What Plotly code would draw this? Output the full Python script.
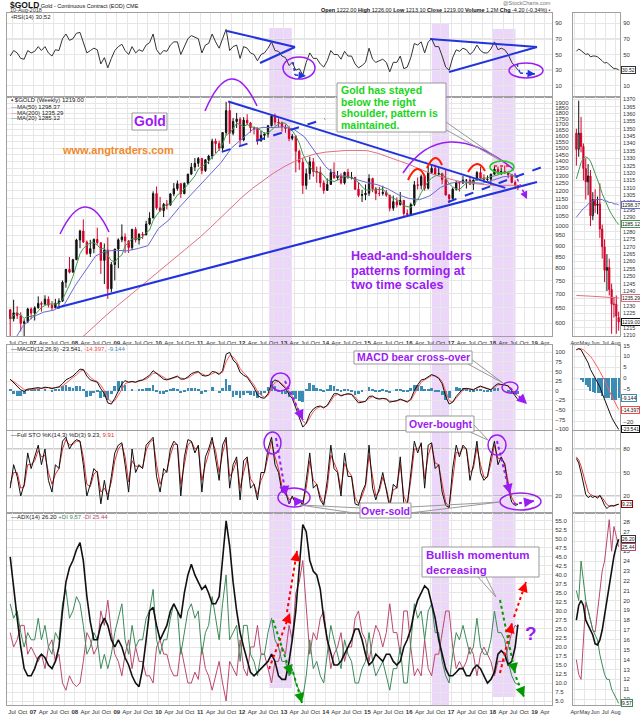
import pandas as pd
import plotly.graph_objects as go
from plotly.subplots import make_subplots

W, H = 640, 716
ML, MR, MT, MB = 7, 20, 13, 11
PW, PH = W - ML - MR, H - MT - MB

FONT = "Liberation Sans, Arial, sans-serif"
PURPLE = "#9b1cf2"
BLUE = "#2233dd"
RED = "#d4002a"
GRID = "#e6e6e6"
FRAME = "#a0a0a0"

# ---------------- weekly $GOLD ----------------
months = list(pd.date_range("2006-06-01", "2018-08-01", freq="MS") + pd.Timedelta(days=14))
months[-1] = pd.Timestamp("2018-08-08")

opens = [643, 614, 633, 624, 599, 604, 646,
         632, 650, 665, 662, 680, 659, 650, 666, 673, 743, 795, 783,
         836, 927, 972, 917, 864, 886, 930, 914, 833, 880, 718, 815,
         884, 928, 942, 923, 891, 980, 927, 955, 952, 1008, 1040, 1182,
         1097, 1081, 1118, 1113, 1180, 1213, 1245, 1181, 1248, 1309, 1358, 1385,
         1421, 1333, 1411, 1439, 1556, 1536, 1500, 1628, 1826, 1622, 1725, 1746,
         1566, 1737, 1711, 1669, 1664, 1560, 1604, 1615, 1687, 1773, 1719, 1713,
         1675, 1663, 1578, 1597, 1476, 1393, 1234, 1312, 1396, 1327, 1323, 1250,
         1202, 1240, 1321, 1284, 1296, 1250, 1322, 1282, 1287, 1210, 1171, 1175,
         1184, 1279, 1213, 1183, 1183, 1190, 1172, 1095, 1133, 1115, 1141, 1065,
         1060, 1116, 1238, 1234, 1293, 1215, 1320, 1349, 1309, 1313, 1272, 1173,
         1152, 1210, 1253, 1249, 1268, 1269, 1242, 1269, 1320, 1283, 1271, 1275,
         1309, 1343, 1318, 1327, 1316, 1305, 1253, 1233]
highs = [646, 678, 655, 635, 612, 650, 651,
         655, 690, 672, 694, 690, 673, 681, 683, 750, 796, 848, 840,
         933, 978, 1033, 925, 928, 934, 989, 915, 910, 940, 826, 885,
         935, 1006, 960, 925, 983, 992, 961, 967, 1025, 1072, 1196, 1227,
         1162, 1126, 1143, 1186, 1249, 1266, 1248, 1252, 1311, 1388, 1424, 1432,
         1425, 1416, 1448, 1576, 1577, 1560, 1632, 1912, 1921, 1756, 1804, 1764,
         1764, 1792, 1721, 1681, 1671, 1641, 1628, 1693, 1790, 1798, 1754, 1724,
         1698, 1680, 1616, 1602, 1488, 1424, 1348, 1434, 1425, 1362, 1362, 1267,
         1280, 1345, 1392, 1331, 1315, 1325, 1346, 1324, 1290, 1256, 1206, 1240,
         1308, 1285, 1224, 1225, 1232, 1205, 1175, 1170, 1159, 1192, 1143, 1088,
         1127, 1263, 1286, 1306, 1304, 1362, 1377, 1375, 1352, 1318, 1338, 1180,
         1220, 1264, 1261, 1297, 1275, 1297, 1274, 1330, 1362, 1308, 1300, 1311,
         1366, 1362, 1356, 1369, 1326, 1309, 1266, 1236]
lows = [543, 605, 613, 574, 560, 600, 612,
        608, 647, 637, 662, 651, 641, 648, 646, 671, 722, 778, 783,
        836, 888, 913, 857, 848, 865, 905, 776, 736, 681, 705, 750,
        800, 916, 866, 866, 879, 915, 905, 932, 951, 1002, 1040, 1086,
        1075, 1045, 1088, 1110, 1166, 1200, 1155, 1180, 1240, 1305, 1330, 1360,
        1308, 1324, 1380, 1415, 1462, 1478, 1478, 1603, 1535, 1604, 1667, 1523,
        1556, 1692, 1627, 1612, 1527, 1550, 1565, 1585, 1680, 1690, 1672, 1636,
        1626, 1555, 1563, 1321, 1338, 1180, 1208, 1272, 1292, 1251, 1221, 1181,
        1200, 1240, 1277, 1268, 1240, 1240, 1282, 1273, 1204, 1160, 1131, 1142,
        1167, 1191, 1142, 1166, 1170, 1162, 1077, 1080, 1099, 1111, 1052, 1046,
        1058, 1107, 1208, 1208, 1200, 1208, 1310, 1305, 1304, 1241, 1171, 1124,
        1146, 1200, 1195, 1244, 1214, 1236, 1205, 1268, 1279, 1261, 1264, 1237,
        1306, 1307, 1303, 1315, 1282, 1248, 1211, 1204]
closes = [614, 633, 624, 599, 604, 646, 632,
          650, 665, 662, 680, 659, 650, 666, 673, 743, 795, 783, 836,
          927, 972, 917, 864, 886, 930, 914, 833, 880, 718, 815, 884,
          928, 942, 923, 891, 980, 927, 955, 952, 1008, 1040, 1182, 1097,
          1081, 1118, 1113, 1180, 1213, 1245, 1181, 1248, 1309, 1358, 1385, 1421,
          1333, 1411, 1439, 1556, 1536, 1500, 1628, 1826, 1622, 1725, 1746, 1566,
          1737, 1711, 1669, 1664, 1560, 1604, 1615, 1687, 1773, 1719, 1713, 1675,
          1663, 1578, 1597, 1476, 1393, 1234, 1312, 1396, 1327, 1323, 1250, 1202,
          1240, 1321, 1284, 1296, 1250, 1322, 1282, 1287, 1210, 1171, 1175, 1184,
          1279, 1213, 1183, 1183, 1190, 1172, 1095, 1133, 1115, 1141, 1065, 1060,
          1116, 1238, 1234, 1293, 1215, 1320, 1349, 1309, 1313, 1272, 1173, 1152,
          1210, 1253, 1249, 1268, 1269, 1242, 1269, 1320, 1283, 1271, 1275, 1309,
          1343, 1318, 1327, 1316, 1305, 1253, 1233, 1219]
ma20 = [610, 625, 634, 623, 615, 621, 621,
        626, 639, 651, 658, 663, 663, 663, 666, 678, 705, 732, 766,
        817, 863, 887, 903, 913, 914, 902, 885, 889, 855, 832, 826,
        845, 857, 898, 914, 933, 933, 935, 941, 964, 976, 1027, 1056,
        1082, 1104, 1118, 1118, 1141, 1174, 1186, 1213, 1239, 1268, 1296, 1344,
        1361, 1382, 1398, 1432, 1455, 1488, 1532, 1609, 1622, 1660, 1709, 1697,
        1679, 1697, 1686, 1669, 1668, 1642, 1622, 1626, 1648, 1680, 1701, 1713,
        1709, 1670, 1645, 1598, 1541, 1456, 1402, 1362, 1332, 1318, 1322, 1300,
        1268, 1267, 1259, 1269, 1278, 1295, 1287, 1287, 1270, 1254, 1225, 1205,
        1204, 1204, 1207, 1208, 1210, 1188, 1165, 1155, 1141, 1131, 1110, 1103,
        1099, 1124, 1143, 1188, 1219, 1260, 1282, 1297, 1301, 1313, 1283, 1244,
        1224, 1212, 1207, 1226, 1250, 1256, 1259, 1274, 1277, 1277, 1284, 1292,
        1296, 1303, 1314, 1323, 1322, 1304, 1287, 1285.12]

ma50_dates = list(pd.date_range("2006-07-01", "2018-07-01", freq="QS")) + [pd.Timestamp("2018-08-08")]
ma50 = [537, 589, 620, 635, 642, 661, 728, 790, 853, 875, 878, 876, 886, 900,
        985, 1029, 1099, 1167, 1238, 1310, 1390, 1501, 1574, 1652, 1672, 1671,
        1677, 1654, 1590, 1474, 1361, 1298, 1294, 1272, 1252, 1238, 1211, 1174,
        1152, 1145, 1169, 1221, 1249, 1259, 1255, 1247, 1268, 1291, 1299, 1298.37]
ma200_dates = list(pd.date_range("2007-10-01", "2018-07-01", freq="QS")) + [pd.Timestamp("2018-08-08")]
ma200 = [520, 539, 565, 595, 625, 655, 685, 718, 750, 786, 820, 858, 900,
         942, 990, 1045, 1100, 1160, 1215, 1265, 1315, 1360, 1398, 1430, 1455,
         1469, 1478, 1482, 1482, 1480, 1460, 1432, 1405, 1377, 1345, 1315, 1292,
         1272, 1257, 1247, 1240, 1234, 1234, 1235, 1235.29]

rsi = [48, 55, 52, 45, 44, 55, 52,
       54, 60, 55, 60, 52, 48, 56, 55, 70, 76, 68, 70,
       77, 78, 66, 52, 55, 58, 56, 38, 46, 33, 45, 55,
       60, 63, 55, 50, 60, 52, 56, 54, 62, 65, 76, 56,
       50, 55, 54, 62, 66, 66, 50, 60, 70, 74, 72, 70,
       52, 62, 64, 76, 66, 58, 70, 82, 55, 60, 62, 45,
       60, 58, 52, 50, 42, 50, 52, 58, 66, 55, 54, 48,
       46, 36, 40, 30, 32, 24, 40, 52, 45, 45, 38, 34,
       42, 55, 50, 50, 44, 54, 48, 48, 38, 33, 36, 40,
       58, 44, 40, 42, 44, 40, 28, 40, 40, 48, 32, 34,
       46, 64, 62, 66, 52, 66, 70, 60, 60, 48, 34, 30,
       46, 56, 54, 58, 56, 50, 54, 62, 55, 52, 52, 57,
       66, 56, 58, 56, 50, 40, 35, 30.52]
macd = [30, 20, 10, 2, -2, 4, 5,
        6, 8, 6, 9, 8, 5, 8, 10, 18, 28, 33, 38,
        47, 56, 55, 38, 28, 25, 22, 5, -8, -32, -35, -20,
        0, 18, 26, 22, 24, 22, 26, 28, 34, 40, 52, 45,
        36, 30, 28, 32, 36, 38, 30, 30, 36, 44, 48, 50,
        40, 38, 40, 50, 48, 42, 52, 95, 100, 80, 70, 48,
        40, 35, 22, 8, -12, -18, -20, -8, 20, 28, 24, 14,
        6, -10, -20, -45, -70, -95, -85, -60, -48, -42, -40, -45,
        -38, -20, -8, -8, -14, -10, -8, -10, -22, -32, -30, -28,
        -15, -14, -20, -22, -20, -22, -30, -28, -26, -22, -26, -30,
        -22, 0, 15, 28, 30, 35, 42, 38, 32, 18, -15, -35,
        -30, -15, -5, 5, 6, 4, 2, 8, 12, 8, 4, 2,
        12, 18, 16, 15, 12, -2, -14, -23.541]
signal = [28, 24, 17, 9, 3, 2, 3,
          4, 6, 6, 7, 8, 7, 7, 8, 12, 20, 28, 34,
          41, 50, 54, 46, 35, 28, 24, 14, 0, -20, -30, -26,
          -12, 5, 18, 22, 23, 22, 24, 26, 30, 36, 45, 46,
          40, 34, 30, 30, 33, 36, 33, 31, 33, 40, 45, 48,
          44, 40, 40, 45, 48, 45, 48, 75, 92, 88, 76, 58,
          46, 38, 28, 15, -2, -12, -17, -13, 6, 22, 25, 18,
          10, -2, -14, -34, -56, -80, -86, -70, -55, -46, -42, -43,
          -40, -28, -14, -10, -12, -11, -9, -9, -16, -27, -29, -28,
          -20, -16, -18, -21, -21, -21, -27, -28, -27, -24, -25, -28,
          -25, -8, 8, 22, 28, 33, 39, 39, 34, 24, -2, -26,
          -30, -20, -9, 1, 5, 5, 3, 6, 10, 9, 6, 3,
          8, 15, 16, 15, 13, 4, -8, -14.397]
hist = [4, -8, -14, -14, -10, 4, 4,
        4, 4, 0, 4, 0, -4, 2, 4, 12, 16, 10, 8,
        12, 12, 2, -16, -14, -6, -4, -18, -16, -24, -10, 12,
        24, 26, 16, 0, 2, 0, 4, 4, 8, 8, 14, -2,
        -8, -8, -4, 4, 6, 4, -6, -2, 6, 8, 6, 4,
        -8, -4, 0, 10, 0, -6, 8, 30, 16, -16, -12, -20,
        -12, -6, -12, -14, -20, -12, -6, 10, 26, 12, -2, -8,
        -8, -16, -12, -22, -28, -30, 2, 20, 14, 8, 4, -4,
        4, 16, 12, 4, -4, 2, 2, -2, -12, -10, -2, 0,
        10, 4, -4, -2, 2, -2, -6, 0, 2, 4, -2, -4,
        6, 16, 14, 12, 4, 4, 6, -2, -4, -12, -24, -18,
        0, 10, 8, 8, 2, -2, -2, 4, 4, -2, -4, -2,
        8, 6, 0, 0, -2, -9, -10, -9.144]
sto_k = [30, 60, 45, 20, 35, 75, 55,
         70, 85, 60, 80, 40, 25, 60, 55, 90, 95, 80, 88,
         92, 90, 60, 20, 35, 55, 50, 10, 40, 15, 45, 75,
         85, 88, 60, 25, 80, 50, 60, 55, 85, 90, 95, 45,
         25, 55, 50, 80, 90, 85, 20, 70, 92, 90, 75, 85,
         25, 70, 80, 95, 70, 40, 85, 95, 30, 60, 70, 15,
         65, 70, 30, 35, 15, 50, 50, 80, 95, 60, 50, 25,
         25, 10, 20, 10, 15, 8, 40, 75, 30, 35, 15, 8,
         40, 85, 55, 50, 20, 75, 45, 45, 10, 8, 25, 35,
         85, 30, 15, 30, 50, 25, 5, 35, 30, 70, 10, 8,
         50, 90, 75, 88, 30, 85, 88, 55, 60, 25, 8, 5,
         55, 85, 70, 85, 80, 40, 60, 90, 50, 40, 45, 70,
         90, 60, 70, 60, 30, 12, 8, 9.23]
sto_d = [35, 50, 50, 30, 32, 60, 60,
         65, 78, 70, 72, 50, 35, 48, 55, 80, 92, 85, 86,
         90, 90, 70, 35, 32, 48, 52, 25, 30, 22, 38, 65,
         80, 86, 70, 38, 65, 58, 58, 56, 78, 88, 92, 60,
         35, 48, 52, 72, 86, 86, 35, 60, 85, 90, 80, 82,
         40, 60, 76, 90, 78, 50, 75, 92, 45, 52, 66, 30,
         50, 68, 42, 35, 22, 40, 50, 70, 90, 70, 55, 32,
         26, 15, 18, 12, 14, 10, 30, 65, 40, 35, 20, 10,
         30, 72, 62, 52, 28, 62, 52, 46, 18, 10, 20, 32,
         72, 42, 20, 26, 44, 30, 10, 28, 30, 60, 20, 9,
         40, 80, 80, 85, 42, 72, 86, 62, 60, 35, 12, 6,
         42, 76, 74, 82, 80, 50, 55, 82, 60, 44, 44, 62,
         85, 68, 68, 62, 38, 18, 10, 9.91]
adx = [45, 36, 28, 20, 14, 12, 12,
       14, 17, 18, 17, 15, 14, 16, 20, 30, 38, 42, 44,
       47, 49, 44, 34, 27, 22, 22, 26, 28, 26, 22, 20,
       22, 20, 17, 15, 12, 10, 9, 14, 22, 30, 31, 26,
       22, 24, 26, 30, 32, 30, 28, 35, 40, 43, 40, 38,
       36, 37, 35, 32, 32, 34, 44, 55, 48, 38, 30, 24,
       20, 16, 13, 12, 13, 14, 15, 16, 18, 16, 12, 11,
       11, 16, 22, 30, 42, 54, 52, 44, 41, 40, 36, 28,
       22, 18, 15, 15, 16, 18, 20, 22, 25, 25, 22, 18,
       15, 16, 18, 17, 16, 18, 18, 16, 15, 16, 20, 22,
       25, 30, 33, 35, 37, 36, 32, 28, 22, 18, 14, 12,
       12, 13, 14, 14, 12, 12, 14, 15, 14, 12, 10, 11,
       13, 18, 19, 18, 15, 16, 20, 26.20]
plus_di = [32, 28, 30, 24, 20, 24, 22,
           22, 28, 22, 26, 20, 18, 24, 22, 32, 36, 28, 30,
           34, 32, 26, 18, 20, 24, 22, 14, 18, 14, 18, 24,
           28, 32, 22, 18, 26, 20, 22, 22, 28, 30, 36, 22,
           18, 22, 22, 28, 32, 30, 18, 24, 30, 32, 28, 30,
           18, 24, 26, 34, 28, 22, 32, 40, 22, 24, 26, 16,
           26, 26, 18, 16, 12, 18, 18, 24, 28, 22, 20, 16,
           16, 12, 14, 10, 8, 6, 12, 22, 14, 16, 12, 10,
           18, 26, 22, 18, 14, 22, 18, 16, 10, 10, 14, 16,
           24, 16, 12, 14, 16, 12, 8, 14, 14, 20, 10, 10,
           20, 32, 28, 30, 22, 30, 32, 24, 24, 16, 12, 10,
           18, 24, 22, 26, 22, 18, 20, 28, 20, 18, 18, 22,
           30, 24, 24, 22, 16, 12, 10, 9.57]
minus_di = [24, 20, 22, 26, 26, 18, 20,
            18, 16, 18, 14, 20, 22, 16, 18, 10, 8, 12, 10,
            9, 10, 16, 24, 22, 18, 20, 30, 26, 33, 24, 18,
            16, 12, 18, 22, 14, 20, 16, 16, 12, 12, 10, 20,
            22, 18, 18, 14, 12, 12, 20, 15, 10, 10, 13, 11,
            20, 14, 12, 8, 12, 16, 10, 5, 16, 14, 12, 22,
            14, 12, 20, 20, 26, 18, 18, 14, 10, 16, 16, 20,
            18, 26, 22, 35, 38, 44, 30, 18, 24, 22, 28, 30,
            22, 14, 18, 20, 24, 16, 20, 20, 28, 30, 24, 22,
            16, 22, 26, 24, 20, 24, 32, 24, 24, 18, 30, 30,
            20, 12, 14, 12, 22, 14, 12, 18, 18, 24, 30, 30,
            20, 14, 16, 14, 16, 20, 18, 12, 18, 20, 18, 16,
            12, 16, 16, 16, 20, 24, 26, 25.44]

for name, arr in [("opens", opens), ("highs", highs), ("lows", lows), ("closes", closes),
                  ("ma20", ma20), ("rsi", rsi), ("macd", macd), ("signal", signal),
                  ("hist", hist), ("sto_k", sto_k), ("sto_d", sto_d), ("adx", adx),
                  ("plus_di", plus_di), ("minus_di", minus_di)]:
    assert len(arr) == len(months), (name, len(arr))
assert len(ma50) == len(ma50_dates) and len(ma200) == len(ma200_dates)

# ---------------- zoom panel on the right: last 19 weeks ----------------
weeks = pd.date_range("2018-04-06", "2018-08-10", freq="7D")
w_open = [1347, 1336, 1347, 1338, 1323, 1314, 1318, 1291, 1302, 1298, 1299, 1282, 1270, 1254, 1256, 1241, 1231, 1231, 1222]
w_high = [1350, 1369, 1358, 1340, 1330, 1326, 1322, 1307, 1309, 1304, 1313, 1285, 1275, 1265, 1262, 1245, 1236, 1237, 1226]
w_low = [1325, 1331, 1334, 1315, 1302, 1305, 1284, 1288, 1293, 1292, 1276, 1262, 1246, 1240, 1237, 1211, 1222, 1211, 1213.1]
w_close = [1336, 1347, 1338, 1323, 1314, 1318, 1291, 1302, 1298, 1299, 1282, 1270, 1254, 1256, 1241, 1231, 1231, 1223, 1219]
w_ma20 = [1316, 1322, 1327, 1330, 1331, 1330, 1328, 1324, 1320, 1315, 1311, 1306, 1302, 1298, 1295, 1292, 1289, 1287, 1285.12]
w_ma50 = [1290, 1292, 1294, 1296, 1297, 1299, 1300, 1301, 1302, 1302, 1302, 1302, 1301, 1301, 1300, 1300, 1299, 1299, 1298.37]
w_ma200 = [1237, 1237, 1237, 1237, 1236.8, 1236.6, 1236.5, 1236.4, 1236.3, 1236.2, 1236.1, 1236, 1235.9, 1235.8, 1235.7, 1235.6, 1235.5, 1235.4, 1235.29]
w_rsi = [54, 57, 55, 52, 50, 51, 47, 48, 48, 47, 45, 42, 39, 40, 37, 34, 32, 32, 30.52]
w_macd = [13, 13.5, 13, 11, 9, 7, 4, 2, 0, -2, -4, -7, -10, -12, -15, -18, -20, -22, -23.541]
w_signal = [13, 13.5, 13.5, 13, 12, 11, 10, 8.5, 7, 5, 3, 1, -1, -3, -6, -8, -10, -12, -14.397]
w_hist = [0, 0, -0.5, -2, -3, -4, -6, -6.5, -7, -7, -7, -8, -9, -9, -9, -10, -10, -10, -9.144]
w_k = [68, 62, 50, 35, 22, 18, 20, 18, 20, 17, 21, 15, 8, 4, 7, 8, 7, 9, 9.23]
w_d = [70, 66, 58, 48, 35, 25, 22, 20, 19, 19, 20, 18, 14, 9, 7, 7, 8, 8, 9.91]
w_adx = [18, 19.5, 20, 19.5, 18, 17.5, 17, 16.5, 15.6, 15.5, 16, 17, 18.5, 20, 21.5, 23, 24.5, 25.5, 26.2]
w_pdi = [21, 20, 24, 22, 20, 19, 18, 17, 16.5, 16, 14.5, 13.5, 12.5, 12, 12, 11, 10.5, 10, 9.57]
w_mdi = [14, 12.5, 12, 16, 19.8, 19, 18, 17, 16.8, 19, 21, 23, 24, 26, 28.2, 25, 27.5, 26.5, 25.44]

# analyst trend lines on the weekly price panel: (start, price, end, price, dash)
trendlines = [("2011-09-02", 1915, "2018-04-20", 1218, "solid"),
              ("2007-07-28", 650, "2019-01-22", 1256, "solid"),
              ("2011-07-08", 1471, "2013-12-27", 1748, "dash"),
              ("2016-12-05", 1131, "2019-03-15", 1361, "dash")]
# shaded periods
bands = [("2012-08-26", "2013-03-11", 28, 688),
         ("2016-07-17", "2016-12-14", 23, 705),
         ("2017-12-31", "2018-07-18", 29, 697)]

qticks = pd.date_range("2006-07-01", "2019-04-01", freq="QS")
qlabels = ["<b>%s</b>" % d.strftime("%y") if d.month == 1 else d.strftime("%b") for d in qticks]
mticks = pd.date_range("2018-04-01", "2018-08-01", freq="MS")
mlabels = [d.strftime("%b") for d in mticks]


def pxx(x):
    return (x - ML) / PW


def pxy(y):
    return (H - MB - y) / PH


fig = make_subplots(rows=5, cols=2)

fig.add_trace(go.Scatter(x=months, y=rsi, mode="lines", line=dict(color="#333", width=1)), 1, 1)
fig.add_trace(go.Scatter(x=weeks, y=w_rsi, mode="lines", line=dict(color="#333", width=1)), 1, 2)

fig.add_trace(go.Scatter(x=ma200_dates, y=ma200, mode="lines", line=dict(color="#e07080", width=1)), 2, 1)
fig.add_trace(go.Scatter(x=ma50_dates, y=ma50, mode="lines", line=dict(color="#6a6ad0", width=1)), 2, 1)
fig.add_trace(go.Scatter(x=months, y=ma20, mode="lines", line=dict(color="#3f9a4f", width=1)), 2, 1)
fig.add_trace(go.Candlestick(x=months, open=opens, high=highs, low=lows, close=closes,
                             increasing=dict(line=dict(color="#111", width=1), fillcolor="#111"),
                             decreasing=dict(line=dict(color=RED, width=1), fillcolor=RED),
                             whiskerwidth=0), 2, 1)
for d0, p0, d1, p1, dash in trendlines:
    fig.add_trace(go.Scatter(x=[d0, d1], y=[p0, p1], mode="lines",
                             line=dict(color=BLUE, width=2, dash=dash)), 2, 1)

fig.add_trace(go.Scatter(x=weeks, y=w_ma200, mode="lines", line=dict(color="#e07080", width=1)), 2, 2)
fig.add_trace(go.Scatter(x=weeks, y=w_ma50, mode="lines", line=dict(color="#6a6ad0", width=1)), 2, 2)
fig.add_trace(go.Scatter(x=weeks, y=w_ma20, mode="lines", line=dict(color="#3f9a4f", width=1)), 2, 2)
fig.add_trace(go.Candlestick(x=weeks, open=w_open, high=w_high, low=w_low, close=w_close,
                             increasing=dict(line=dict(color="#111", width=1), fillcolor="white"),
                             decreasing=dict(line=dict(color=RED, width=1), fillcolor=RED),
                             whiskerwidth=0), 2, 2)

fig.add_trace(go.Bar(x=months, y=hist, marker=dict(color="#3a8cb4", line=dict(width=0)),
                     width=24 * 86400000), 3, 1)
fig.add_trace(go.Scatter(x=months, y=signal, mode="lines", line=dict(color="#ff5a5a", width=1)), 3, 1)
fig.add_trace(go.Scatter(x=months, y=macd, mode="lines", line=dict(color="#111", width=1)), 3, 1)
fig.add_trace(go.Bar(x=weeks, y=w_hist, marker=dict(color="#3a8cb4", line=dict(width=0)),
                     width=6 * 86400000), 3, 2)
fig.add_trace(go.Scatter(x=weeks, y=w_signal, mode="lines", line=dict(color="#ff5a5a", width=1)), 3, 2)
fig.add_trace(go.Scatter(x=weeks, y=w_macd, mode="lines", line=dict(color="#111", width=1)), 3, 2)

fig.add_trace(go.Scatter(x=months, y=sto_d, mode="lines", line=dict(color="#e03030", width=1)), 4, 1)
fig.add_trace(go.Scatter(x=months, y=sto_k, mode="lines", line=dict(color="#111", width=1)), 4, 1)
fig.add_trace(go.Scatter(x=weeks, y=w_d, mode="lines", line=dict(color="#e03030", width=1)), 4, 2)
fig.add_trace(go.Scatter(x=weeks, y=w_k, mode="lines", line=dict(color="#111", width=1)), 4, 2)

fig.add_trace(go.Scatter(x=months, y=minus_di, mode="lines", line=dict(color="#b94870", width=1)), 5, 1)
fig.add_trace(go.Scatter(x=months, y=plus_di, mode="lines", line=dict(color="#3d8a5a", width=1)), 5, 1)
fig.add_trace(go.Scatter(x=months, y=adx, mode="lines", line=dict(color="#111", width=1.6)), 5, 1)
fig.add_trace(go.Scatter(x=weeks, y=w_mdi, mode="lines", line=dict(color="#b94870", width=1)), 5, 2)
fig.add_trace(go.Scatter(x=weeks, y=w_pdi, mode="lines", line=dict(color="#3d8a5a", width=1)), 5, 2)
fig.add_trace(go.Scatter(x=weeks, y=w_adx, mode="lines", line=dict(color="#111", width=1.6)), 5, 2)

# ---------------- axes ----------------
rows_px = [(13, 97), (97, 336), (345, 430), (431, 513), (513, 705)]
yranges = [([-4, 102.7], [10, 30, 50, 70, 90]),
           ([2.7487, 3.2924], list(range(600, 1901, 50))),
           ([-102.6, 119], list(range(-100, 101, 25))),
           ([-1.7, 103], [20, 50, 80]),
           ([3.9, 57.2], [5 + 2.5 * i for i in range(21)])]
yranges_side = [([-4, 102.7], [10, 30, 50, 70, 90]),
                ([1209.5, 1371.5], list(range(1210, 1371, 5))),
                ([-23.8, 15.2], list(range(-20, 16, 5))),
                ([-1.7, 103], [20, 50, 80]),
                ([9.4, 28.87], list(range(10, 29)))]
axis_common = dict(showgrid=True, gridcolor=GRID, gridwidth=1, showline=True, linecolor=FRAME,
                   linewidth=1, mirror=True, zeroline=False, ticks="", automargin=False,
                   tickfont=dict(family=FONT, size=6, color="#333"))
for r in range(5):
    top, bot = rows_px[r]
    for c in range(2):
        i = r * 2 + c + 1
        xa = "xaxis" if i == 1 else "xaxis%d" % i
        ya = "yaxis" if i == 1 else "yaxis%d" % i
        if c == 0:
            xcfg = dict(domain=[pxx(7), pxx(552)], type="date",
                        range=["2006-05-18", "2019-06-02"],
                        tickmode="array", tickvals=list(qticks), ticktext=qlabels)
            rng, tv = yranges[r]
        else:
            xcfg = dict(domain=[pxx(573), pxx(620)], type="date",
                        range=["2018-03-27", "2018-08-14"],
                        tickmode="array", tickvals=list(mticks), ticktext=mlabels)
            rng, tv = yranges_side[r]
        xcfg.update(axis_common)
        if c == 1:
            xcfg["tickfont"] = dict(family=FONT, size=5.5, color="#333")
        xcfg["tickangle"] = 0
        xcfg["ticklabelstandoff"] = 1
        xcfg["showticklabels"] = r in (1, 4)
        xcfg["rangeslider"] = dict(visible=False)
        ycfg = dict(domain=[pxy(bot), pxy(top)], range=rng, tickmode="array", tickvals=tv,
                    side="right")
        ycfg.update(axis_common)
        ycfg["ticklabelstandoff"] = 1
        if r == 1 and c == 0:
            ycfg["type"] = "log"
        if r == 1 and c == 1:
            ycfg["tickfont"] = dict(family=FONT, size=5.5, color="#333")
        if r == 4 and c == 0:
            ycfg["tickformat"] = ".1f"
        fig.layout[xa].update(xcfg)
        fig.layout[ya].update(ycfg)

# ---------------- drawings ----------------
shapes = []
annos = []


def seg(x0, y0, x1, y1, color, width=1, dash="solid"):
    shapes.append(dict(type="line", xref="paper", yref="paper", x0=pxx(x0), y0=pxy(y0),
                       x1=pxx(x1), y1=pxy(y1), line=dict(color=color, width=width, dash=dash)))


def ellipse(x0, y0, x1, y1, color, width=1.5):
    shapes.append(dict(type="circle", xref="paper", yref="paper", x0=pxx(x0), y0=pxy(y1),
                       x1=pxx(x1), y1=pxy(y0), line=dict(color=color, width=width)))


def box(x0, y0, x1, y1):
    shapes.append(dict(type="rect", xref="paper", yref="paper", x0=pxx(x0), y0=pxy(y1),
                       x1=pxx(x1), y1=pxy(y0), fillcolor="white", line=dict(color="#999", width=1)))


def arc(p0, apex, p2, color, width):
    cx = 2 * apex[0] - (p0[0] + p2[0]) / 2
    cy = 2 * apex[1] - (p0[1] + p2[1]) / 2
    path = "M %.5f %.5f Q %.5f %.5f %.5f %.5f" % (pxx(p0[0]), pxy(p0[1]), pxx(cx), pxy(cy),
                                                  pxx(p2[0]), pxy(p2[1]))
    shapes.append(dict(type="path", xref="paper", yref="paper", path=path,
                       line=dict(color=color, width=width)))


def arrow(pts, color, width=2):
    for (a, b), (c, d) in zip(pts[:-1], pts[1:]):
        seg(a, b, c, d, color, width, "dot")
    (xa, ya), (xb, yb) = pts[-2], pts[-1]
    length = ((xa - xb) ** 2 + (ya - yb) ** 2) ** 0.5
    annos.append(dict(xref="paper", yref="paper", x=pxx(xb), y=pxy(yb), text="",
                      showarrow=True, arrowhead=2, arrowsize=1, arrowwidth=width,
                      arrowcolor=color, ax=(xa - xb) / length * 8, ay=(ya - yb) / length * 8,
                      standoff=0))


def text(x, y, s, size=7, color="#222", bold=False, xanchor="left"):
    annos.append(dict(xref="paper", yref="paper", x=pxx(x), y=pxy(y), text=("<b>%s</b>" % s) if bold else s,
                      showarrow=False, xanchor=xanchor, yanchor="middle",
                      font=dict(family=FONT, size=size, color=color)))


for d0, d1, top, bot in bands:
    shapes.append(dict(type="rect", xref="x", yref="paper", x0=d0, x1=d1, y0=pxy(bot), y1=pxy(top),
                       fillcolor="rgba(196,130,236,0.33)", line=dict(width=0), layer="below"))

for yr, ax in [("y", "x"), ("y2", "x2")]:
    for lvl, dash in [(70, "solid"), (30, "solid"), (50, "dashdot")]:
        shapes.append(dict(type="line", xref=ax + " domain", yref=yr, x0=0, x1=1, y0=lvl, y1=lvl,
                           line=dict(color="#999", width=1, dash=dash), layer="below"))
for yr, ax in [("y7", "x7"), ("y8", "x8")]:
    for lvl, dash in [(80, "solid"), (20, "solid"), (50, "dashdot")]:
        shapes.append(dict(type="line", xref=ax + " domain", yref=yr, x0=0, x1=1, y0=lvl, y1=lvl,
                           line=dict(color="#999", width=1, dash=dash), layer="below"))

# RSI panel
seg(227, 31, 295, 47, BLUE, 2)
seg(260, 63, 295, 47, BLUE, 2)
seg(430, 39, 537, 47, BLUE, 2)
seg(449, 72, 537, 47, BLUE, 2)
ellipse(283, 57, 315, 79, PURPLE)
ellipse(509, 63, 543, 78, PURPLE)
arrow([(293, 62), (295, 75), (306, 76)], BLUE, 1.5)
arrow([(517, 64), (520, 73), (535, 74)], BLUE, 1.5)

# price panel
arc((60, 234), (85, 207), (109, 232), PURPLE, 1.5)
arc((205, 111), (231, 79), (257, 106), PURPLE, 1.5)
arc((403, 173), (450, 142), (512, 168), PURPLE, 1.5)
arrow([(512, 168), (527, 199)], PURPLE, 1.5)
for p0, ap, p2 in [((408, 180), (417, 169), (425, 177)), ((427, 168), (435, 158), (442, 165)),
                   ((468, 172), (477, 164), (485, 171))]:
    arc(p0, ap, p2, "#ff1a00", 2)
ellipse(490, 161, 514, 173, "#22cc22")
seg(494, 166, 510, 166, "#ff1a00", 1.5, "dot")

# MACD panel
ellipse(271, 373, 290, 391, PURPLE)
arrow([(285, 381), (303, 420)], PURPLE, 2)
ellipse(502, 382, 518, 393, PURPLE)
arrow([(510, 388), (527, 404)], PURPLE, 2)

# STO panel
ellipse(264, 432, 281, 454, PURPLE)
arrow([(276, 438), (286, 496)], PURPLE, 2)
ellipse(278, 488, 310, 507, PURPLE)
arrow([(288, 502), (304, 501)], PURPLE, 2)
ellipse(488, 435, 506, 455, PURPLE)
arrow([(497, 441), (510, 494)], PURPLE, 2)
ellipse(500, 493, 541, 510, PURPLE)
arrow([(513, 504), (534, 501)], PURPLE, 2)

# ADX panel
for pts in [[(269, 669), (290, 613)], [(287, 612), (297, 551)],
            [(500, 673), (512, 623)], [(514, 617), (526, 582)]]:
    arrow(pts, "#ff0000", 2)
for pts in [[(273, 620), (291, 675)], [(293, 672), (302, 703)],
            [(500, 600), (515, 673)], [(516, 677), (524, 697)]]:
    arrow(pts, "#009900", 2)

# callout pointers and boxes
for a in [(443, 128, 503, 162), (446, 122, 503, 162),
          (468, 364, 503, 383), (471, 359, 503, 383),
          (474, 425, 488, 440), (470, 432, 488, 440),
          (361, 508, 300, 505), (361, 514, 300, 505),
          (410, 507, 500, 502), (410, 513, 500, 502),
          (478, 577, 496, 597), (486, 577, 496, 597)]:
    seg(*a, "#999", 1)
box(132, 113, 167, 130)
box(337, 83, 446, 132)
box(354, 351, 472, 364)
box(406, 416, 474, 432)
box(360, 503, 411, 518)
box(422, 547, 539, 577)

text(149.5, 121.5, "Gold", 14, PURPLE, True, "center")
text(118, 150, "www.angtraders.com", 11, "#f0892a", True, "center")
for yy, s in [(90, "Gold has stayed"), (101.7, "below the right"),
              (113.3, "shoulder, pattern is"), (125, "maintained.")]:
    text(339, yy, s, 10.5, "#19d419", True)
for yy, s in [(256, "Head-and-shoulders"), (270.5, "patterns forming at"), (285, "two time scales")]:
    text(349, yy, s, 12.5, PURPLE, True)
text(413, 357.5, "MACD bear cross-over", 10.5, PURPLE, True, "center")
text(440, 424, "Over-bought", 10.5, PURPLE, True, "center")
text(385.5, 510.5, "Over-sold", 10.5, PURPLE, True, "center")
text(424, 555, "Bullish momentum", 11.5, PURPLE, True)
text(424, 569.5, "decreasing", 11.5, PURPLE, True)
text(531, 633, "?", 19, PURPLE, True, "center")

# header and panel legends
text(8, 4.5, "<span style='font-size:8.5px'><b>$GOLD</b></span> Gold - Continuous Contract (EOD) CME",
     5.5, "#111")
text(8, 10.5, "10-Aug-2018", 5.5, "#333")
text(553, 3, "@StockCharts.com", 5.5, "#777", False, "right")
text(553, 10, "<b>Open</b> 1222.00 <b>High</b> 1226.00 <b>Low</b> 1213.10 <b>Close</b> 1219.00 "
              "<b>Volume</b> 1.2M <b>Chg</b> -4.20 (-0.34%) <span style='color:#d00'>▪</span>",
     5.5, "#111", False, "right")
text(9, 17, "<span style='color:#3f7a4f'>▪</span>RSI(14) 30.52", 6)
text(9, 100.5, "▪ $GOLD (Weekly) 1219.00", 6)
text(9, 106.5, "<span style='color:#6a6ad0'>—</span>MA(50) 1298.37", 6)
text(9, 112.5, "<span style='color:#e07080'>—</span>MA(200) 1235.29", 6)
text(9, 118.5, "<span style='color:#3f9a4f'>—</span>MA(20) 1285.12", 6)
text(9, 348.5, "—MACD(12,26,9) -23.541, <span style='color:#f44'>-14.397</span>, "
               "<span style='color:#3a8cb4'>-9.144</span>", 6)
text(9, 434.5, "—Full STO %K(14,3) %D(3) 9.23, <span style='color:#e03030'>9.91</span>", 6)
text(9, 516.5, "—ADX(14) 26.20 <span style='color:#3d8a5a'>+DI 9.57</span> "
               "<span style='color:#b94870'>-DI 25.44</span>", 6)

# value tags on the zoom panel
for yref, val, s, col in [("y2", 30.52, "30.52", "#333"),
                          ("y4", 1298.37, "1298.37", "#6a6ad0"), ("y4", 1285.12, "1285.12", "#3f9a4f"),
                          ("y4", 1235.29, "1235.29", "#e07080"), ("y4", 1219.0, "1219.00", "#111"),
                          ("y6", -9.144, "-9.144", "#3a8cb4"), ("y6", -14.397, "-14.397", "#f44"),
                          ("y6", -23.541, "-23.541", "#111"), ("y8", 9.23, "9.23", "#900"),
                          ("y10", 26.2, "26.20", "#333"), ("y10", 25.44, "25.44", "#b94870"),
                          ("y10", 9.57, "9.57", "#3d8a5a")]:
    annos.append(dict(xref="paper", yref=yref, x=pxx(620.5), y=val, text=s, showarrow=False,
                      xanchor="left", yanchor="middle", bgcolor="white", bordercolor=col,
                      borderwidth=1, borderpad=0, font=dict(family=FONT, size=5, color="#111")))

fig.update_layout(width=W, height=H, margin=dict(l=ML, r=MR, t=MT, b=MB, autoexpand=False),
                  paper_bgcolor="white", plot_bgcolor="white", showlegend=False,
                  hovermode=False, bargap=0, shapes=shapes, annotations=annos,
                  font=dict(family=FONT, size=7, color="#222"))

fig.write_html("out.html", config={"displayModeBar": False},
               post_script="document.body.style.margin='0';document.body.style.overflow='hidden';")
